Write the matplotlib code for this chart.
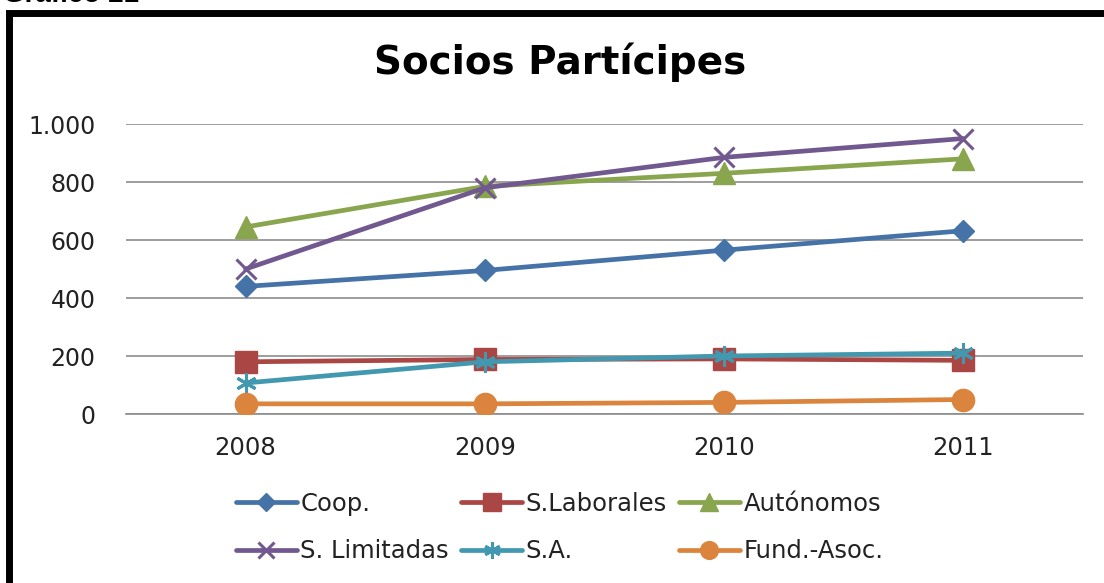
import matplotlib
matplotlib.use("Agg")
import matplotlib.pyplot as plt
from matplotlib.patches import Rectangle

years = ["2008", "2009", "2010", "2011"]
series_names = ["Coop.", "S.Laborales", "Autónomos", "S. Limitadas", "S.A.", "Fund.-Asoc."]
coop = [440, 495, 565, 632]
s_laborales = [180, 188, 190, 185]
autonomos = [645, 785, 830, 880]
s_limitadas = [500, 780, 885, 950]
s_a = [107, 180, 200, 210]
fund_asoc = [35, 35, 40, 50]
yticks = [0, 200, 400, 600, 800, 1000]
ytick_labels = ["0", "200", "400", "600", "800", "1.000"]

values = [coop, s_laborales, autonomos, s_limitadas, s_a, fund_asoc]
colors = ["#4572A7", "#AA4643", "#89A54E", "#71588F", "#4198AF", "#DB843D"]
markers = ["D", "s", "^", "x", (6, 2, 0), "o"]
msizes = [11, 16, 16, 15, 15, 16]

plt.rcParams["font.family"] = ["DejaVu Sans"]

W, H = 1104, 583
fig = plt.figure(figsize=(W / 100, H / 100), dpi=100)
ax = fig.add_axes([126 / W, 1 - 414 / H, (1083 - 126) / W, (414 - 124) / H])

x = list(range(len(years)))
handles = []
for name, vals, c, m, ms in zip(series_names, values, colors, markers, msizes):
    mew = 2.2 if m in ("x", (6, 2, 0)) else 1
    h, = ax.plot(x, vals, color=c, lw=3.4, marker=m, markersize=ms,
                 markerfacecolor=c, markeredgecolor=c, markeredgewidth=mew,
                 label=name, zorder=3, solid_capstyle="round")
    handles.append(h)

ax.set_xlim(-0.5, 3.5)
ax.set_ylim(0, 1000)
ax.set_xticks(x)
ax.set_xticklabels(years, fontsize=17.5, color="#222222")
ax.set_yticks(yticks)
ax.set_yticklabels(ytick_labels, fontsize=17, color="#222222")
ax.tick_params(axis="both", length=0)
ax.tick_params(axis="y", pad=22)
ax.tick_params(axis="x", pad=16)
ax.grid(axis="y", color="#8c8c8c", lw=1.2, zorder=0)
for s in ["left", "right", "top"]:
    ax.spines[s].set_visible(False)
ax.spines["bottom"].set_color("#8c8c8c")
ax.spines["bottom"].set_linewidth(1.2)

fig.text(560 / W, 1 - 62 / H, "Socios Partícipes", ha="center", va="center",
         fontsize=28, fontweight="bold")

order = [0, 3, 1, 4, 2, 5]
leg = fig.legend([handles[i] for i in order], [series_names[i] for i in order],
                 ncol=3, loc="upper left", bbox_to_anchor=(236 / W, 1 - 492 / H),
                 frameon=False, fontsize=17.5, handlelength=2.5, handletextpad=0.15,
                 columnspacing=0.5, labelspacing=0.95, borderaxespad=0,
                 borderpad=0, markerscale=0.8)
for t in leg.get_texts():
    t.set_color("#222222")

fig.text(3 / W, 1 - 1.5 / H, "Gráfico 21", ha="left", va="baseline",
         fontsize=20, fontweight="bold", family="Liberation Sans")

rect = Rectangle((8.5 / W, -0.1), 1.2, 1 - 13 / H + 0.1, transform=fig.transFigure,
                 fill=False, edgecolor="black", lw=5, clip_on=False)
fig.patches.append(rect)

fig.savefig("out.png", dpi=100)
